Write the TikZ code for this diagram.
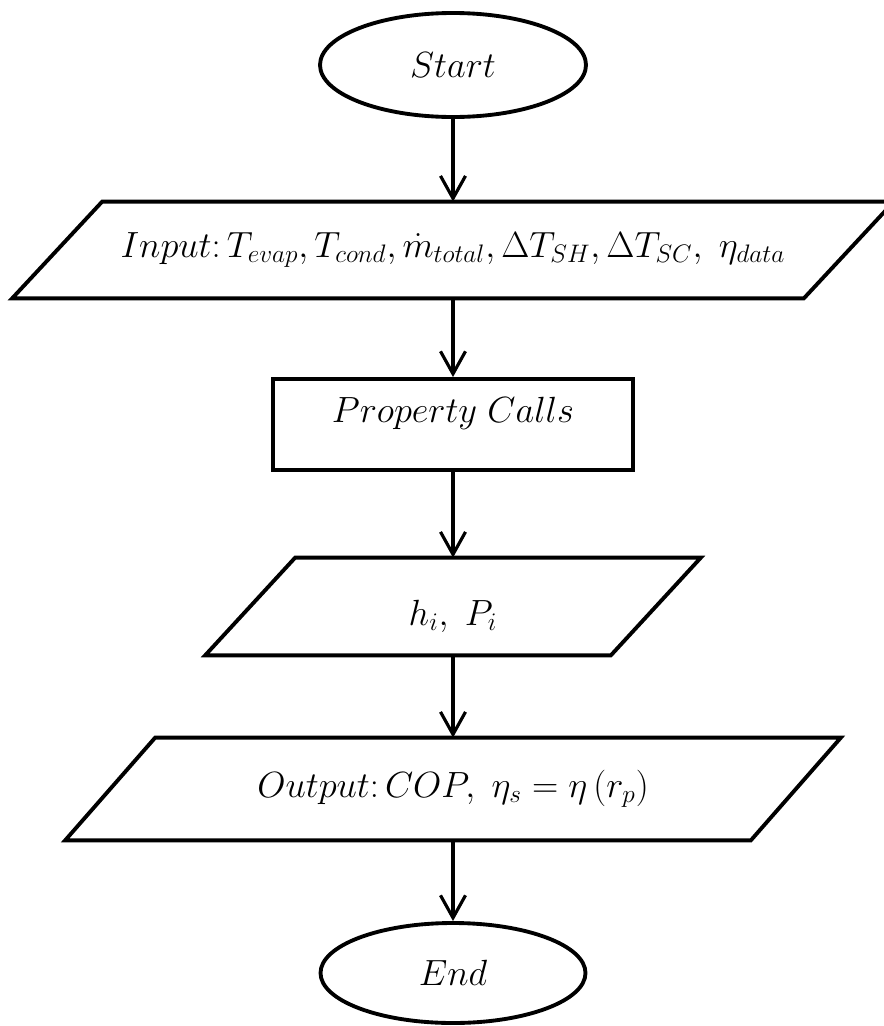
\documentclass[tikz,border=0pt]{standalone}
\usepackage{amsmath, amssymb}
\usepackage{tikz}
\usetikzlibrary{positioning}
\usetikzlibrary{shapes.geometric}
\usetikzlibrary{arrows.meta}
\tikzset{terminal/.style={draw, ellipse, line width=2.2pt, inner sep=0pt}}
\tikzset{inout/.style={rectangle, inner sep=0pt}}
\tikzset{slanted/.style={line width=2.2pt}}
\tikzset{process/.style={draw, rectangle, line width=2.2pt, inner sep=0pt}}
\tikzset{flow/.style={-{Straight Barb[length=4.5mm, width=5mm, line width=1.8pt]}, line width=1.8pt}}

\begin{document}
\begin{tikzpicture}[font=\fontsize{19.5}{23}\selectfont]
\useasboundingbox (0,0) rectangle (17.66,-20.52);
%\draw (0,0) rectangle (17.66,-20.52);
\node[terminal, minimum width=5.32cm, minimum height=2.08cm] (start) at (9.06,-1.30) {$Start$};
\node[inout, minimum width=17.62cm, minimum height=1.92cm] (input) at (9.06,-5.00) {$Input{:}\,T_{evap}, T_{cond}, \dot{m}_{total}, \Delta T_{SH}, \Delta T_{SC},\ \eta_{data}$};
\node[process, minimum width=7.2cm, minimum height=1.82cm, text depth=0.6cm] (prop) at (9.06,-8.49) {$Property\ Calls$};
\node[inout, minimum width=9.9cm, minimum height=1.94cm, text height=0.9cm] (hp) at (9.06,-12.13) {$h_i,\ P_i$};
\node[inout, minimum width=15.5cm, minimum height=2.04cm] (output) at (9.06,-15.78) {$Output{:}\,COP,\ \eta_s = \eta\left(r_p\right)$};
\node[terminal, minimum width=5.3cm, minimum height=2.0cm] (end) at (9.06,-19.46) {$End$};
% parallelograms
\foreach \n in {input,hp,output}
  \draw[slanted] ([xshift=1.8cm]\n.north west) -- (\n.north east) -- ([xshift=-1.8cm]\n.south east) -- (\n.south west) -- cycle;
\draw[flow] (start) -- (input);
\draw[flow] (input) -- (prop);
\draw[flow] (prop) -- (hp);
\draw[flow] (hp) -- (output);
\draw[flow] (output) -- (end);
\end{tikzpicture}
\end{document}
